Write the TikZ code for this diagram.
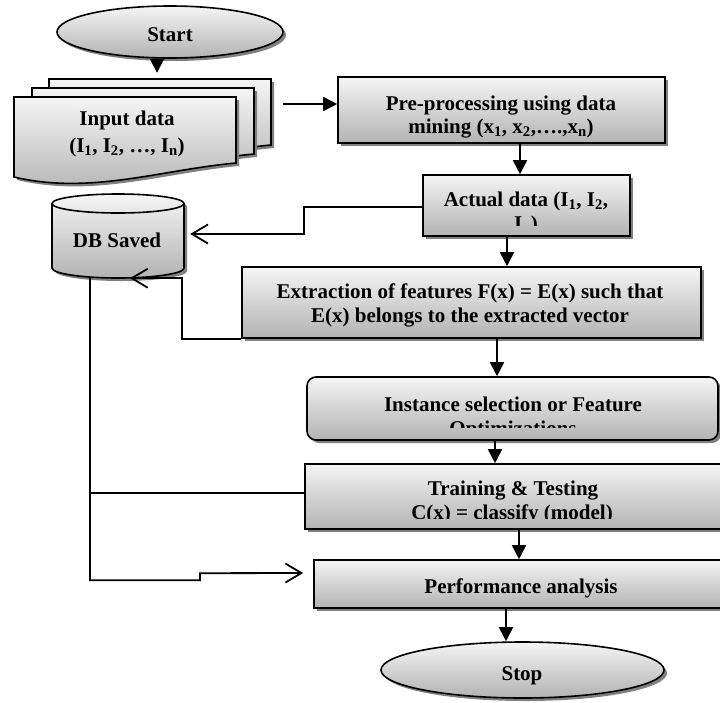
\documentclass[tikz,border=0pt]{standalone}
\usepackage{fontspec}
\setmainfont{Liberation Serif}
\usetikzlibrary{arrows.meta,shapes.geometric,shadows}
\begin{document}
\begin{tikzpicture}[x=1pt,y=-1pt,
  shd/.style={drop shadow={shadow xshift=3pt,shadow yshift=-3pt,fill=black!50,opacity=1}},
  boxfill/.style={top color=black!4,bottom color=black!30},
  procbox/.style={draw,line width=1.6pt,boxfill,shd,inner sep=0pt,rectangle},
  term/.style={draw,line width=1.6pt,boxfill,shd,ellipse,inner sep=0pt},
  ghost/.style={inner sep=0pt,rectangle},
  txt/.style={font=\fontsize{21}{24}\selectfont\bfseries,inner sep=0pt,anchor=base},
  arr/.style={line width=1.8pt,-{Triangle[length=14pt,width=14pt]}},
  openarr/.style={line width=1.8pt,-{Straight Barb[length=16pt,width=19pt]}},
  conn/.style={line width=1.8pt}]
\useasboundingbox (0,0) rectangle (720,702);
\clip (0,0) rectangle (720,702);

% Start
\node[term,minimum width=226pt,minimum height=52pt] (start) at (170,32) {};
\node[txt] (startt) at (170,41) {Start};

% Input data (multi-document)
\draw[line width=1.6pt,boxfill,shd] (49,79) -- (271,79) -- (271,145) .. controls (195,152) and (125,177) .. (49,159) -- cycle;
\draw[line width=1.6pt,boxfill,shd] (32,88) -- (254,88) -- (254,154) .. controls (178,161) and (108,186) .. (32,168) -- cycle;
\draw[line width=1.6pt,boxfill,shd] (14,97) -- (236,97) -- (236,163) .. controls (160,170) and (90,195) .. (14,177) -- cycle;
\node[ghost,minimum width=269pt,minimum height=109pt] (inp) at (148.5,127.5) {};
\node[txt] (inp1) at (127,125) {Input data};
\node[txt] (inp2) at (127,152) {(I\textsubscript{1}, I\textsubscript{2}, …, I\textsubscript{n})};

% Pre-processing
\node[procbox,minimum width=327pt,minimum height=66pt] (pre) at (501.5,110) {};
\node[txt] (pre1) at (501,110) {Pre-processing using data};
\node[txt] (pre2) at (501,133) {mining (x\textsubscript{1}, x\textsubscript{2},….,x\textsubscript{n})};

% Actual data
\node[procbox,minimum width=207pt,minimum height=61pt] (act) at (526.5,205.5) {};
\begin{scope}
\clip (423,175) rectangle (630,225);
\node[txt] (act1) at (526,206) {Actual data (I\textsubscript{1}, I\textsubscript{2},};
\node[txt] (act2) at (526,230) {I\textsubscript{n})};
\end{scope}

% DB Saved cylinder
\draw[line width=1.6pt,boxfill,shd] (52,203.5) -- (52,268)
  arc[start angle=180,end angle=0,x radius=66,y radius=10] -- (184,203.5)
  arc[start angle=0,end angle=-180,x radius=66,y radius=9.5] -- cycle;
\draw[line width=1.6pt] (52,203.5) arc[start angle=180,end angle=0,x radius=66,y radius=9.5];
\node[ghost,minimum width=138pt,minimum height=84pt] (db) at (121,236) {};
\node[txt] (dbt) at (117,247) {DB Saved};

% Extraction
\node[procbox,minimum width=459pt,minimum height=71pt] (ext) at (471.5,302.5) {};
\node[txt] (ext1) at (470,298) {Extraction of features F(x) = E(x) such that};
\node[txt] (ext2) at (470,322) {E(x) belongs to the extracted vector};

% Instance selection
\node[procbox,rounded corners=9pt,minimum width=411pt,minimum height=63pt] (inst) at (512.5,408.5) {};
\begin{scope}
\clip (307,377) rectangle (718,427);
\node[txt] (inst1) at (513,411) {Instance selection or Feature};
\node[txt] (inst2) at (513,435) {Optimizations};
\end{scope}

% Training & Testing
\node[procbox,minimum width=417pt,minimum height=65pt] (train) at (513.5,496.5) {};
\begin{scope}
\clip (305,464) rectangle (722,518.5);
\node[txt] (train1) at (513,495) {Training \& Testing};
\node[txt] (train2) at (512,519) {C(x) = classify (model)};
\end{scope}

% Performance analysis
\node[procbox,minimum width=414pt,minimum height=48pt] (perf) at (521,584) {};
\node[txt] (perft) at (521,593) {Performance analysis};

% Stop
\node[term,minimum width=283pt,minimum height=56pt] (stop) at (522.5,670) {};
\node[txt] (stopt) at (522,680) {Stop};

% Connectors
\draw[arr] (start.south -| 157,0) -- (inp.north -| 157,0);
\draw[arr] (inp.east |- 0,104) -- (pre.west |- 0,104);
\draw[arr] (pre.south -| 520,0) -- (act.north -| 520,0);
\draw[arr] (act.south -| 507,0) -- (ext.north -| 507,0);
\draw[arr] (ext.south -| 497,0) -- (inst.north -| 497,0);
\draw[arr] (inst.south -| 495,0) -- (train.north -| 495,0);
\draw[arr] (train.south -| 519,0) -- (perf.north -| 519,0);
\draw[arr] (perf.south -| 506,0) -- (stop.north -| 506,0);

\draw[openarr] (act.west |- 0,207) -- ++(-118,0) |- (db.east |- 0,234);
\draw[openarr] (ext.south west) -- ++(-59,0) |- (db.south -| 130,0);
\draw[openarr] (db.south -| 90,0) -- ++(0,302) -- ++(110,0) -- ++(0,-7) -- ([xshift=-10pt]perf.west |- 0,573);
\draw[conn] (train.west |- 0,493) -- ++(-215,0);
\end{tikzpicture}
\end{document}
